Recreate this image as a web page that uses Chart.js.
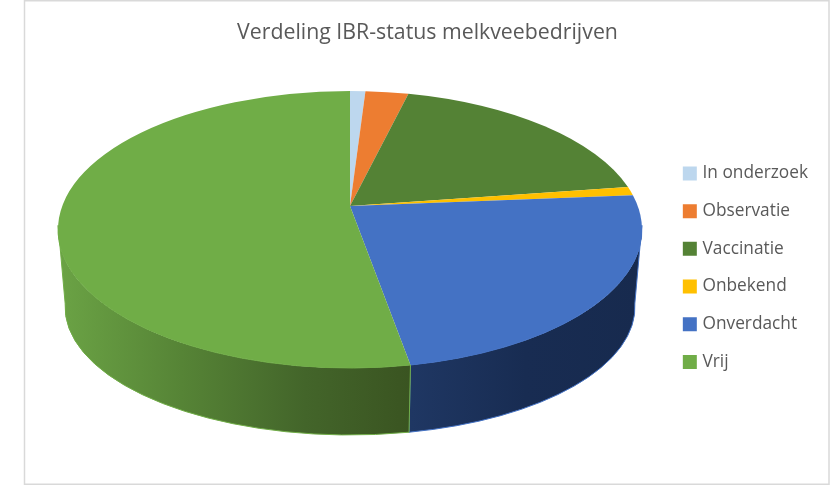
<!DOCTYPE html>
<html>
<head>
<meta charset="utf-8">
<style>
  html, body { margin: 0; padding: 0; background: #fff; }
  #wrap { width: 831px; height: 485px; }
</style>
<script src="https://cdn.jsdelivr.net/npm/chart.js@4"></script>
</head>
<body>
<div id="wrap"><canvas id="pie" width="831" height="485"></canvas></div>
<script>
// ===== Data =====
const labels = ['In onderzoek', 'Observatie', 'Vaccinatie', 'Onbekend', 'Onverdacht', 'Vrij'];
const shares = [1, 2.8, 18.9, 1, 23.5, 52.8];
const colors = ['#bdd7ee', '#ed7d31', '#548235', '#ffc000', '#4472c4', '#70ad47'];
const titleText = 'Verdeling IBR-status melkveebedrijven';

// ===== 3D look: top ellipse seen in perspective, apex above its middle =====
const top3d = { cx: 350, cy: 229.5, rx: 292, ry: 138.5 };
const bottom3d = { cx: 350, cy: 307, rx: 285, ry: 128 };
const apex = { x: 350, y: 206 };
const persp = 0.1697, scaleX = 287.8, scaleY = 134.5;

// arc angle from Chart.js -> parameter on the top ellipse
function rimParam(angle) {
  const phi = angle + Math.PI / 2;
  const u = Math.sin(phi), v = -Math.cos(phi);
  const w = 1 - persp * v;
  const x = apex.x + scaleX * u / w;
  const y = apex.y + scaleY * v / w;
  return Math.atan2((y - top3d.cy) / top3d.ry, (x - top3d.cx) / top3d.rx);
}

function unwrap(t0, t1) {
  while (t1 <= t0) t1 += Math.PI * 2;
  return t1;
}

function drawWall(ctx, t0, t1, fill, edge) {
  // only the part that faces the viewer
  const from = Math.max(t0, -0.03);
  const to = Math.min(t1, Math.PI + 0.03);
  if (to <= from) return;
  ctx.beginPath();
  ctx.ellipse(top3d.cx, top3d.cy, top3d.rx, top3d.ry, 0, from, to);
  ctx.ellipse(bottom3d.cx, bottom3d.cy, bottom3d.rx, bottom3d.ry, 0, to, from, true);
  ctx.closePath();
  ctx.fillStyle = fill;
  ctx.fill();
  ctx.strokeStyle = edge;
  ctx.lineWidth = 1;
  ctx.stroke();
}

const pie3d = {
  id: 'pie3d',
  afterLayout(chart) {
    // move the legend next to the pie, the title stays centred on the frame
    chart.legend.left -= 13;
    chart.legend.right -= 13;
    chart.legend.top += 0.7;
    chart.legend.bottom += 0.7;
  },
  beforeDraw(chart) {
    const ctx = chart.ctx;
    ctx.save();
    ctx.strokeStyle = '#d9d9d9';
    ctx.lineWidth = 1.5;
    ctx.strokeRect(24.5, 0.75, 804.5, 483.5);
    ctx.restore();
  },
  beforeDatasetsDraw(chart) {
    const ctx = chart.ctx;
    const arcs = chart.getDatasetMeta(0).data;
    const greenWall = ctx.createLinearGradient(58, 0, 411, 0);
    greenWall.addColorStop(0, '#6ba345');
    greenWall.addColorStop(0.35, '#568436');
    greenWall.addColorStop(0.7, '#43652a');
    greenWall.addColorStop(1, '#3a5421');
    const blueWall = ctx.createLinearGradient(411, 0, 640, 0);
    blueWall.addColorStop(0, '#1f3763');
    blueWall.addColorStop(0.5, '#182c52');
    blueWall.addColorStop(1, '#172a4e');
    const walls = { 4: blueWall, 5: greenWall };

    ctx.save();
    arcs.forEach((arc, i) => {
      if (!walls[i]) return;
      const t0 = rimParam(arc.startAngle);
      drawWall(ctx, t0, unwrap(t0, rimParam(arc.endAngle)), walls[i], colors[i]);
    });
    arcs.forEach((arc, i) => {
      const t0 = rimParam(arc.startAngle);
      const t1 = unwrap(t0, rimParam(arc.endAngle));
      ctx.beginPath();
      ctx.moveTo(apex.x, apex.y);
      ctx.ellipse(top3d.cx, top3d.cy, top3d.rx, top3d.ry, 0, t0, t1);
      ctx.closePath();
      ctx.fillStyle = colors[i];
      ctx.fill();
    });
    ctx.restore();
    return false;
  }
};

// ===== Chart =====
new Chart(document.getElementById('pie'), {
  type: 'pie',
  data: {
    labels: labels,
    // border only thickens the legend swatch, the slices are drawn by pie3d
    datasets: [{ data: shares, backgroundColor: colors, borderColor: colors, borderWidth: 6 }]
  },
  options: {
    responsive: false,
    animation: false,
    layout: { padding: { left: 24, right: 0, top: 20, bottom: 0 } },
    plugins: {
      title: {
        display: true,
        text: titleText,
        color: '#595959',
        font: { family: 'Open Sans', size: 21.3, weight: 'normal' },
        padding: { top: 0, bottom: 3.4 }
      },
      legend: {
        position: 'right',
        fullSize: false,
        labels: {
          color: '#595959',
          font: { family: 'Open Sans', size: 17.3 },
          boxWidth: 8,
          boxHeight: 8,
          padding: 20.4
        }
      },
      tooltip: { enabled: false }
    }
  },
  plugins: [pie3d]
});
</script>
</body>
</html>
